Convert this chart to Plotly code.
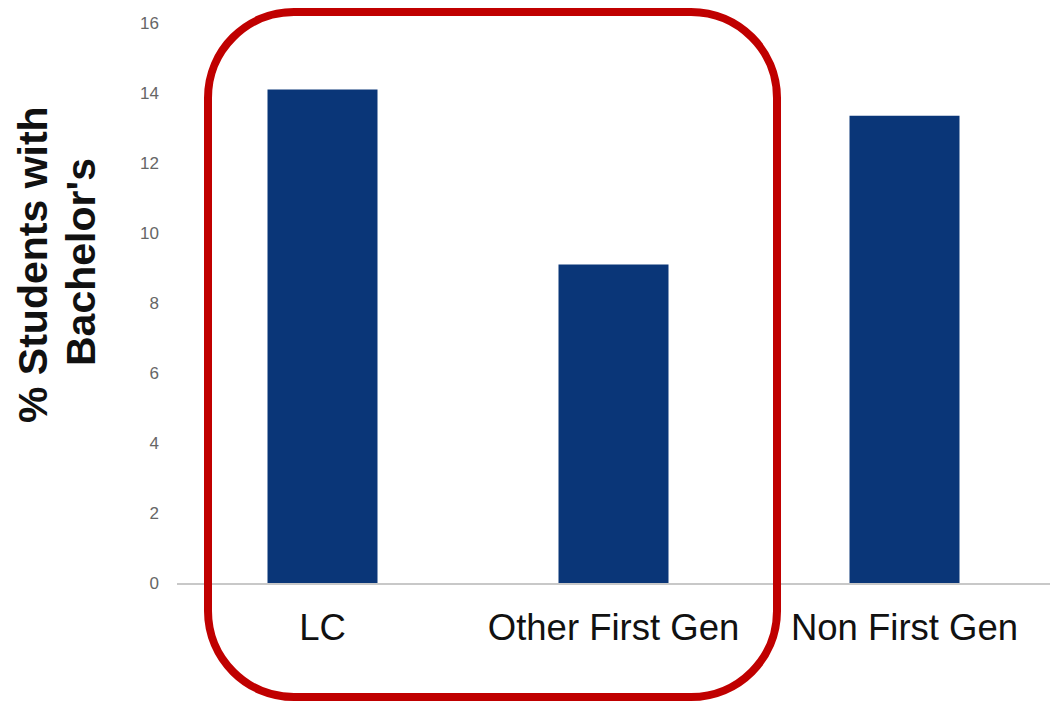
import plotly.graph_objects as go

# Share of students holding a bachelor's degree, by group
categories = ["LC", "Other First Gen", "Non First Gen"]
pct_bachelors = [14.1, 9.1, 13.35]
y_ticks = [0, 2, 4, 6, 8, 10, 12, 14, 16]

W, H = 1052, 707
M_L, M_R, M_T, M_B = 177, 2, 23, 124
PLOT_W = W - M_L - M_R
PLOT_H = H - M_T - M_B


def px_x(x):
    """Pixel column -> paper x."""
    return (x - M_L) / PLOT_W


def px_y(y):
    """Pixel row (from top) -> paper y."""
    return (H - M_B - y) / PLOT_H


def rounded_rect_path(x0, y0, x1, y1, r):
    """Rounded rectangle in pixel space, emitted as an SVG path in paper units."""
    k = 0.5523 * r
    pts = [
        ("M", [(x0 + r, y0)]),
        ("L", [(x1 - r, y0)]),
        ("C", [(x1 - r + k, y0), (x1, y0 + r - k), (x1, y0 + r)]),
        ("L", [(x1, y1 - r)]),
        ("C", [(x1, y1 - r + k), (x1 - r + k, y1), (x1 - r, y1)]),
        ("L", [(x0 + r, y1)]),
        ("C", [(x0 + r - k, y1), (x0, y1 - r + k), (x0, y1 - r)]),
        ("L", [(x0, y0 + r)]),
        ("C", [(x0, y0 + r - k), (x0 + r - k, y0), (x0 + r, y0)]),
    ]
    parts = []
    for cmd, coords in pts:
        parts.append(cmd + " " + " ".join(f"{px_x(a):.5f},{px_y(b):.5f}" for a, b in coords))
    return " ".join(parts) + " Z"


fig = go.Figure(
    go.Bar(
        x=categories,
        y=pct_bachelors,
        marker=dict(color="#0A3678", line=dict(width=0)),
        width=0.378,
    )
)

fig.update_layout(
    width=W,
    height=H,
    margin=dict(l=M_L, r=M_R, t=M_T, b=M_B, pad=0),
    paper_bgcolor="white",
    plot_bgcolor="white",
    showlegend=False,
    font=dict(family="Liberation Sans, Arial, sans-serif"),
    xaxis=dict(
        showgrid=False,
        showline=True,
        linecolor="#C8C8C8",
        linewidth=1.5,
        ticks="",
        tickfont=dict(size=36.5, color="#111111"),
        ticklabelstandoff=11,
        range=[-0.5, 2.5],
        zeroline=False,
    ),
    yaxis=dict(
        range=[0, 16],
        tickvals=y_ticks,
        showgrid=False,
        showline=False,
        zeroline=False,
        ticks="",
        tickfont=dict(size=17, color="#666666"),
        ticklabelstandoff=17,
    ),
    shapes=[
        dict(
            type="path",
            xref="paper",
            yref="paper",
            path=rounded_rect_path(208, 12, 777, 697, 86),
            line=dict(color="#C00000", width=8),
            fillcolor="rgba(0,0,0,0)",
            layer="above",
        )
    ],
    annotations=[
        dict(
            text="<b>% Students with</b>",
            xref="paper", yref="paper",
            x=px_x(33), y=px_y(265),
            xanchor="center", yanchor="middle",
            textangle=-90,
            showarrow=False,
            font=dict(size=41, color="#111111", family="Liberation Sans, Arial, sans-serif"),
        ),
        dict(
            text="<b>Bachelor's</b>",
            xref="paper", yref="paper",
            x=px_x(81), y=px_y(262),
            xanchor="center", yanchor="middle",
            textangle=-90,
            showarrow=False,
            font=dict(size=41, color="#111111", family="Liberation Sans, Arial, sans-serif"),
        ),
    ],
)

fig.write_html("out.html")
